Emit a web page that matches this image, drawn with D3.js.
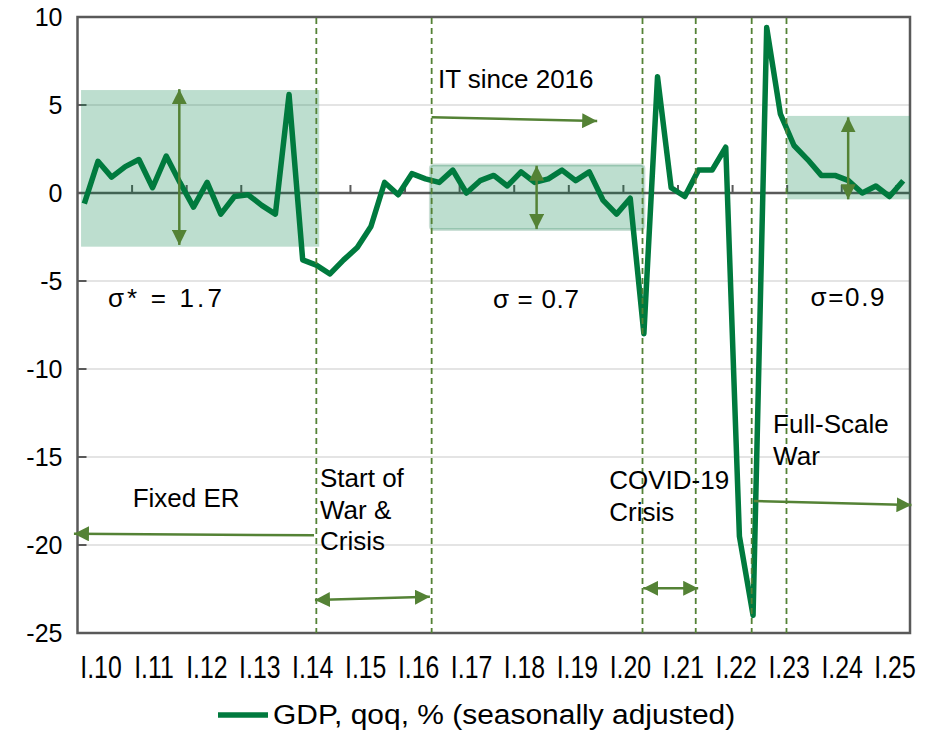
<!DOCTYPE html>
<html>
<head>
<meta charset="utf-8">
<script src="https://cdnjs.cloudflare.com/ajax/libs/d3/7.8.5/d3.min.js"></script>
<style>
  body { margin: 0; background: #fff; }
  text { font-family: 'Liberation Sans', Arial, sans-serif; fill: #000; }
</style>
</head>
<body>
<div id="chart"></div>
<script>
// quarters I.2010 .. I.2025
var quarters = [];
for (var yr = 2010; yr <= 2025; yr++) {
    ['I', 'II', 'III', 'IV'].forEach(function (q) {
        if (yr < 2025 || q === 'I') quarters.push(q + '.' + String(yr).slice(2));
    });
}

var gdp = [-0.6, 1.8, 0.9, 1.5, 1.9, 0.3, 2.1, 0.6, -0.8, 0.6, -1.2, -0.2, -0.1, -0.7, -1.2, 5.6,
    -3.8, -4.1, -4.6, -3.8, -3.1, -1.9, 0.6, -0.1, 1.1, 0.8, 0.6, 1.3, 0.0, 0.7, 1.0, 0.4,
    1.2, 0.6, 0.8, 1.3, 0.7, 1.2, -0.4, -1.2, -0.3, -8.0, 6.6, 0.3, -0.2, 1.3, 1.3, 2.6,
    -19.5, -24.0, 9.4, 4.5, 2.7, 1.9, 1.0, 1.0, 0.7, 0.0, 0.4, -0.2, 0.7];

var xLabels = ['I.10', 'I.11', 'I.12', 'I.13', 'I.14', 'I.15', 'I.16', 'I.17', 'I.18',
    'I.19', 'I.20', 'I.21', 'I.22', 'I.23', 'I.24', 'I.25'];
var yTicks = [10, 5, 0, -5, -10, -15, -20, -25];

var margin = { left: 77.5, right: 20, top: 17, bottom: 98 };
var W = 930, H = 731;
var width = W - margin.left - margin.right,
    height = H - margin.top - margin.bottom;

var svg = d3.select('#chart')
    .append('svg')
    .attr('width', W)
    .attr('height', H);

var g = svg.append('g')
    .attr('transform', 'translate(' + margin.left + ', ' + margin.top + ')');

// category position in "slot" units (0..61), centre of quarter i is i + 0.5
var x = d3.scaleLinear().domain([0, quarters.length]).range([0, width]);
var y = d3.scaleLinear().domain([-25, 10]).range([height, 0]);
var xl = d3.scalePoint().domain(xLabels).range([101 - margin.left, 895 - margin.left]);

var olive = '#548235';
var lineGreen = '#007a3e';
var axisGrey = '#595959';

svg.append('defs').append('marker')
    .attr('id', 'arrow')
    .attr('viewBox', '0 0 10 10')
    .attr('refX', 10).attr('refY', 5)
    .attr('markerUnits', 'userSpaceOnUse')
    .attr('markerWidth', 15).attr('markerHeight', 15)
    .attr('orient', 'auto-start-reverse')
    .append('path')
    .attr('d', 'M0,0L10,5L0,10Z')
    .attr('fill', olive);

// gridlines
g.selectAll('.grid')
    .data(yTicks.filter(function (d) { return d !== 0 && d !== 10 && d !== -25; }))
    .enter().append('line')
    .attr('x1', 0).attr('x2', width)
    .attr('y1', function (d) { return y(d); })
    .attr('y2', function (d) { return y(d); })
    .attr('stroke', '#c9c9c9').attr('stroke-width', 1);

// zero axis with quarter ticks every year
g.append('line')
    .attr('x1', 0).attr('x2', width)
    .attr('y1', y(0)).attr('y2', y(0))
    .attr('stroke', axisGrey).attr('stroke-width', 2.5);

g.selectAll('.xtick')
    .data(d3.range(4, quarters.length, 4))
    .enter().append('line')
    .attr('x1', function (d) { return x(d); })
    .attr('x2', function (d) { return x(d); })
    .attr('y1', y(0)).attr('y2', y(0) - 8)
    .attr('stroke', axisGrey).attr('stroke-width', 2);

// y ticks (inside)
g.selectAll('.ytick')
    .data(yTicks)
    .enter().append('line')
    .attr('x1', 0).attr('x2', 9)
    .attr('y1', function (d) { return y(d); })
    .attr('y2', function (d) { return y(d); })
    .attr('stroke', axisGrey).attr('stroke-width', 2);

// plot frame
g.append('rect')
    .attr('x', 0).attr('y', 0)
    .attr('width', width).attr('height', height)
    .attr('fill', 'none')
    .attr('stroke', axisGrey).attr('stroke-width', 2.5);

// shaded volatility bands
function band(c0, c1, v0, v1, bordered) {
    var r = g.append('rect')
        .attr('x', x(c0)).attr('width', x(c1) - x(c0))
        .attr('y', y(v0)).attr('height', y(v1) - y(v0))
        .attr('fill', 'rgb(0,128,70)').attr('fill-opacity', 0.26);
    if (bordered) {
        r.attr('rx', 3)
            .attr('stroke', 'rgb(0,100,55)').attr('stroke-opacity', 0.2)
            .attr('stroke-width', 3);
    }
}
band(0.26, 17.71, 5.85, -3.05, false);
band(25.86, 41.5, 1.59, -2.07, true);
band(52.0, 61, 4.38, -0.36, false);

// GDP line
var line = d3.line()
    .x(function (d, i) { return x(i + 0.5); })
    .y(function (d) { return y(d); });

g.append('path')
    .datum(gdp)
    .attr('d', line)
    .attr('fill', 'none')
    .attr('stroke', lineGreen)
    .attr('stroke-width', 5.5)
    .attr('stroke-linejoin', 'round');

// dashed event lines
g.selectAll('.event')
    .data([17.5, 25.95, 41.4, 45.3, 49.4, 51.95])
    .enter().append('line')
    .attr('x1', function (d) { return x(d); })
    .attr('x2', function (d) { return x(d); })
    .attr('y1', 1).attr('y2', height)
    .attr('stroke', olive).attr('stroke-width', 1.8)
    .attr('stroke-dasharray', '6,4');

// arrows
function arrow(c0, v0, c1, v1, both) {
    var a = g.append('line')
        .attr('x1', x(c0)).attr('y1', y(v0))
        .attr('x2', x(c1)).attr('y2', y(v1))
        .attr('stroke', olive).attr('stroke-width', 2.5)
        .attr('marker-end', 'url(#arrow)');
    if (both) a.attr('marker-start', 'url(#arrow)');
}
arrow(7.46, -2.95, 7.46, 5.9, true);
arrow(33.64, -2.05, 33.64, 1.55, true);
arrow(56.47, -0.36, 56.47, 4.3, true);
arrow(25.95, 4.3, 38.08, 4.09, false);
arrow(17.33, -19.45, -0.26, -19.36, false);
arrow(17.4, -23.12, 25.82, -22.94, true);
arrow(41.45, -22.46, 45.48, -22.46, true);
arrow(49.56, -17.5, 61.11, -17.73, false);

// annotation texts
function note(c, v, lines, len) {
    var t = g.append('text')
        .attr('x', x(c)).attr('y', y(v))
        .attr('font-size', '26px');
    lines.forEach(function (s, i) {
        t.append('tspan').attr('x', x(c)).attr('dy', i === 0 ? 0 : 31.8).text(s);
    });
    if (len) t.attr('textLength', len).attr('lengthAdjust', 'spacing');
}
note(2.23, -6.48, ['σ* = 1.7'], 114);
note(30.44, -6.53, ['σ = 0.7'], 86);
note(53.71, -6.42, ['σ=0.9'], 74);
note(26.41, 5.97, ['IT since 2016']);
note(4.04, -17.82, ['Fixed ER']);
note(17.77, -16.69, ['Start of', 'War &', 'Crisis']);
note(38.96, -16.84, ['COVID-19', 'Crisis']);
note(50.97, -13.65, ['Full-Scale', 'War']);

// y labels
g.selectAll('.ylab')
    .data(yTicks)
    .enter().append('text')
    .attr('x', -15)
    .attr('y', function (d) { return y(d); })
    .attr('dy', '0.36em')
    .attr('text-anchor', 'end')
    .attr('font-size', '25px')
    .text(function (d) { return d; });

// x labels, tall and narrow like the original
g.selectAll('.xlab')
    .data(xLabels)
    .enter().append('text')
    .attr('transform', function (d) {
        return 'translate(' + xl(d) + ',' + (667 - margin.top) + ') scale(0.8,1)';
    })
    .attr('dy', '0.36em')
    .attr('text-anchor', 'middle')
    .attr('font-size', '31px')
    .text(function (d) { return d; });

// legend
svg.append('line')
    .attr('x1', 218).attr('x2', 268)
    .attr('y1', 715).attr('y2', 715)
    .attr('stroke', lineGreen).attr('stroke-width', 5.5);
svg.append('text')
    .attr('transform', 'translate(273,714) scale(1.07,1)')
    .attr('dy', '0.36em')
    .attr('font-size', '28px')
    .text('GDP, qoq, % (seasonally adjusted)');
</script>
</body>
</html>
